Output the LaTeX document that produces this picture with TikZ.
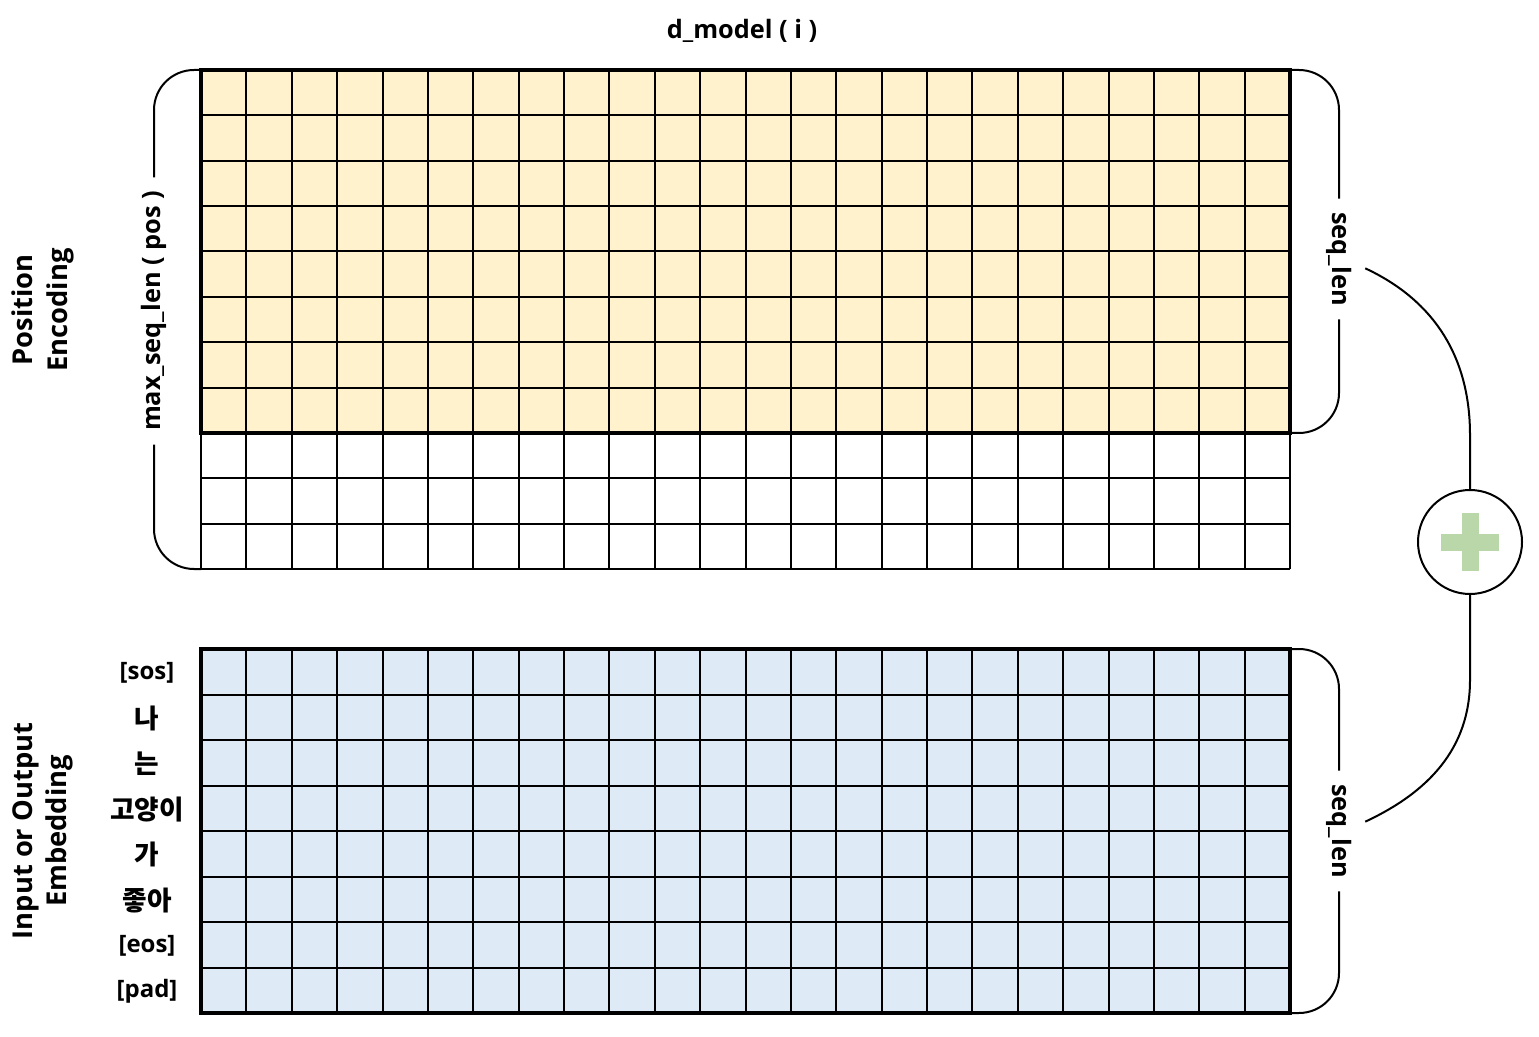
\documentclass[tikz,border=0pt]{standalone}
\usepackage{fontspec}
\setmainfont{Open Sans}
\newfontfamily\hangul{Noto Sans CJK KR}
\usetikzlibrary{positioning}

\definecolor{peyellow}{HTML}{FFF2CC}
\definecolor{embblue}{HTML}{DEEBF7}
\definecolor{plusgreen}{HTML}{B9D7A8}

\newcommand{\kr}[1]{{\fontsize{20}{22}\selectfont\hangul #1}}

\begin{document}
\begin{tikzpicture}[
        x=0.75pt, y=0.75pt,
        font=\fontsize{19}{22}\selectfont\bfseries,
        gridline/.style={line width=1.5pt},
        boxline/.style={line width=3.4pt},
        brace/.style={line width=1.5pt, rounded corners=30pt},
        link/.style={line width=1.5pt},
        sidelabel/.style={inner sep=10pt},
        blocklabel/.style={align=center, rotate=90, font=\fontsize{20.5}{26}\selectfont\bfseries},
        tokenlabel/.style={font=\fontsize{18}{20}\selectfont\bfseries}
        ]
        \useasboundingbox (0,0) rectangle (1539,-1037);

        % position encoding grid
        \fill[peyellow] (201,-70) rectangle (1290,-433);
        \foreach \c in {0,...,24}
            \draw[gridline] ({201+\c*45.375},-70) -- ({201+\c*45.375},-569);
        \foreach \r in {0,...,11}
            \draw[gridline] (201,{-70-\r*45.36}) -- (1290,{-70-\r*45.36});
        \draw[boxline] (201,-70) rectangle (1290,-433);

        % embedding grid
        \fill[embblue] (201,-649) rectangle (1290,-1013);
        \foreach \c in {0,...,24}
            \draw[gridline] ({201+\c*45.375},-649) -- ({201+\c*45.375},-1013);
        \foreach \r in {0,...,8}
            \draw[gridline] (201,{-649-\r*45.5}) -- (1290,{-649-\r*45.5});
        \draw[boxline] (201,-649) rectangle (1290,-1013);

        % labels
        \node (dmodel) at (742,-31) {d\_model ( i )};
        \node[blocklabel] (pe) at (43,-310) {Position\\Encoding};
        \node[blocklabel] (emb) at (43,-831) {Input or Output\\Embedding};
        \node[sidelabel, rotate=90] (maxlen) at (154,-311) {max\_seq\_len ( pos )};
        \node[sidelabel, rotate=-90] (seqA) at (1339,-259) {seq\_len};
        \node[sidelabel, rotate=-90] (seqB) at (1339,-831) {seq\_len};
        \foreach \t [count=\k from 0] in {{[sos]},{\kr{나}},{\kr{는}},{\kr{고양이}},{\kr{가}},{\kr{좋아}},{[eos]},{[pad]}}
            \node[tokenlabel] (tok\k) at (147,{-650-45.5*(\k+0.5)}) {\t};

        % braces
        \draw[brace] (201,-70) -| (maxlen.east);
        \draw[brace] (maxlen.west) |- (201,-569);
        \draw[brace] (1290,-70) -| (seqA.west);
        \draw[brace] (seqA.east) |- (1290,-433);
        \draw[brace] (1290,-649) -| (seqB.west);
        \draw[brace] (seqB.east) |- (1290,-1013);

        % sum
        \node[circle, draw, line width=1.5pt, minimum size=78pt, inner sep=0pt] (plus) at (1470,-542) {};
        \fill[plusgreen] ([shift={(-29,-8.5)}]plus.center) rectangle ([shift={(29,8.5)}]plus.center);
        \fill[plusgreen] ([shift={(-8.5,-29)}]plus.center) rectangle ([shift={(8.5,29)}]plus.center);
        \coordinate (bendA) at (1470,-435);
        \coordinate (bendB) at (1470,-680);
        \draw[link] ([yshift=-7pt]seqA.north) to[out=-25, in=90] (bendA) -- (plus.north);
        \draw[link] (plus.south) -- (bendB) to[out=-90, in=25] ([yshift=7pt]seqB.north);
\end{tikzpicture}
\end{document}
